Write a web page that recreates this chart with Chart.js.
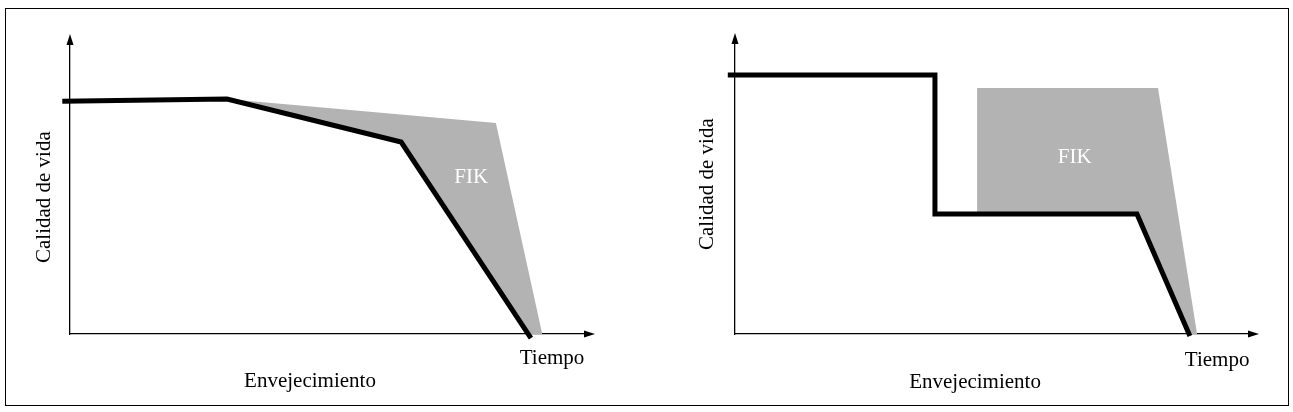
<!DOCTYPE html>
<html>
<head>
<meta charset="utf-8">
<script src="https://cdn.jsdelivr.net/npm/chart.js@4"></script>
<style>
body { margin: 0; background: #fff; }
#frame { position: absolute; left: 5px; top: 8px; width: 1282px; height: 396px; border: 1px solid #000; }
canvas { position: absolute; }
</style>
</head>
<body>
<div id="frame"></div>
<canvas id="left" width="625" height="390" style="left:10px;top:10px"></canvas>
<canvas id="right" width="630" height="390" style="left:650px;top:10px"></canvas>
<script>
// left: calidad de vida que cae poco a poco
const leftLineX = [-1.5, 30.5, 64.3, 89.5];
const leftLineY = [80.3, 81.0, 66.2, -1.4];
const leftFikTopX = [30.5, 82.7, 91.7];
const leftFikTopY = [81.0, 72.8, 0];
const leftFikLowX = [30.5, 64.3, 89.0, 91.7];
const leftFikLowY = [81.0, 66.2, 0, 0];

// right: caida brusca y luego meseta
const rightLineX = [-1.4, 38.9, 38.9, 78.2, 88.5];
const rightLineY = [89.0, 89.0, 41.2, 41.2, -0.7];
const rightFikTopX = [47.1, 82.3, 89.9];
const rightFikTopY = [84.5, 84.5, 0];
const rightFikLowX = [47.1, 78.2, 88.3, 89.9];
const rightFikLowY = [41.2, 41.2, 0, 0];

const yTitle = 'Calidad de vida';
const xTitle = 'Envejecimiento';
const xEnd = 'Tiempo';
const areaLabel = 'FIK';

const FONT = '21px "Liberation Serif", "Times New Roman", serif';
const GREY = '#b3b3b3';

function pts(xs, ys) {
  return xs.map((v, i) => ({x: v, y: ys[i]}));
}

const decor = {
  id: 'decor',
  afterDraw(chart) {
    const {ctx, chartArea: a, scales: {x, y}} = chart;
    const t = chart.options.plugins.decor;
    ctx.save();
    ctx.fillStyle = '#000';
    // arrow heads
    ctx.beginPath();
    ctx.moveTo(a.left, a.top - 10);
    ctx.lineTo(a.left - 3.5, a.top + 1);
    ctx.lineTo(a.left + 3.5, a.top + 1);
    ctx.closePath();
    ctx.fill();
    ctx.beginPath();
    ctx.moveTo(a.right + 10, a.bottom);
    ctx.lineTo(a.right - 1, a.bottom - 3.5);
    ctx.lineTo(a.right - 1, a.bottom + 3.5);
    ctx.closePath();
    ctx.fill();

    ctx.font = FONT;
    ctx.textAlign = 'center';
    ctx.textBaseline = 'middle';
    ctx.fillText(xEnd, x.getPixelForValue(t.end[0]), y.getPixelForValue(t.end[1]));
    ctx.fillText(xTitle, x.getPixelForValue(t.xt[0]), y.getPixelForValue(t.xt[1]));
    ctx.fillStyle = '#fff';
    ctx.fillText(areaLabel, x.getPixelForValue(t.fik[0]), y.getPixelForValue(t.fik[1]));
    ctx.translate(x.getPixelForValue(t.yt[0]), y.getPixelForValue(t.yt[1]));
    ctx.rotate(-Math.PI / 2);
    ctx.fillStyle = '#000';
    ctx.fillText(yTitle, 0, 0);
    ctx.restore();
  }
};

function panel(id, line, top, low, pad, text) {
  new Chart(document.getElementById(id), {
    type: 'line',
    data: {
      datasets: [
        {
          data: line,
          borderColor: '#000',
          borderWidth: 5,
          borderJoinStyle: 'miter',
          pointRadius: 0,
          tension: 0,
          fill: false,
          clip: false
        }, {
          data: top,
          borderWidth: 0,
          borderColor: 'rgba(0,0,0,0)',
          backgroundColor: GREY,
          pointRadius: 0,
          tension: 0,
          fill: 2
        }, {
          data: low,
          borderWidth: 0,
          borderColor: 'rgba(0,0,0,0)',
          pointRadius: 0,
          tension: 0,
          fill: false
        }
      ]
    },
    options: {
      responsive: false,
      devicePixelRatio: 1,
      animation: false,
      events: [],
      layout: { padding: pad },
      scales: {
        x: {
          type: 'linear', min: 0, max: 100,
          ticks: { display: false },
          grid: { display: false, drawTicks: false },
          border: { display: true, color: '#000', width: 1.3 }
        },
        y: {
          min: 0, max: 100,
          ticks: { display: false },
          grid: { display: false, drawTicks: false },
          border: { display: true, color: '#000', width: 1.3 }
        }
      },
      plugins: {
        legend: { display: false },
        tooltip: { enabled: false },
        decor: text
      }
    },
    plugins: [decor]
  });
}

panel('left',
  pts(leftLineX, leftLineY), pts(leftFikTopX, leftFikTopY), pts(leftFikLowX, leftFikLowY),
  { left: 60, right: 50, top: 34, bottom: 66 },
  { fik: [77.9, 53.8], end: [93.6, -8.6], xt: [46.6, -16.4], yt: [-4.9, 47.2] });

panel('right',
  pts(rightLineX, rightLineY), pts(rightFikTopX, rightFikTopY), pts(rightFikLowX, rightFikLowY),
  { left: 85, right: 31, top: 33, bottom: 66 },
  { fik: [66.1, 60.5], end: [93.8, -9.0], xt: [46.7, -16.6], yt: [-5.3, 51.5] });
</script>
</body>
</html>
